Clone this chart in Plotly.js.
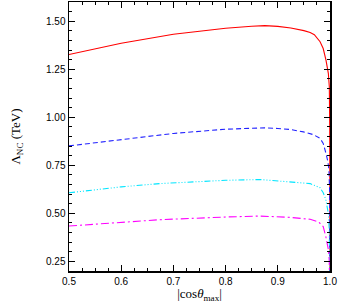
<!DOCTYPE html>
<html>
<head>
<meta charset="utf-8">
<script src="https://cdn.plot.ly/plotly-3.0.1.min.js"></script>
<style>html,body{margin:0;padding:0;background:#fff;}#chart{width:338px;height:305px;}</style>
</head>
<body>
<div id="chart"></div>
<script>
// |cos theta_max| values
const xRed = [0.5, 0.6, 0.7, 0.8, 0.85, 0.875, 0.9, 0.925, 0.95, 0.962, 0.97, 0.981, 0.987, 0.9923, 0.9968, 0.9987, 0.9995, 1.0];
const lamRed = [1.327, 1.385, 1.432, 1.463, 1.474, 1.477, 1.473, 1.465, 1.451, 1.441, 1.43, 1.393, 1.358, 1.298, 1.229, 1.159, 0.95, 0.0];

const xBlue = [0.5, 0.6, 0.7, 0.8, 0.85, 0.875, 0.9, 0.925, 0.949, 0.968, 0.981, 0.987, 0.9923, 0.996, 0.998, 0.9995, 1.0];
const lamBlue = [0.851, 0.885, 0.916, 0.938, 0.944, 0.945, 0.942, 0.936, 0.924, 0.91, 0.89, 0.864, 0.812, 0.769, 0.726, 0.6, 0.0];

const xCyan = [0.5, 0.6, 0.674, 0.8, 0.866, 0.923, 0.962, 0.981, 0.987, 0.992, 0.9968, 0.9985, 1.0];
const lamCyan = [0.607, 0.638, 0.655, 0.672, 0.676, 0.665, 0.655, 0.633, 0.607, 0.572, 0.5, 0.42, 0.0];

const xMag = [0.5, 0.6, 0.674, 0.8, 0.866, 0.923, 0.962, 0.978, 0.987, 0.992, 0.997, 0.9985, 1.0];
const lamMag = [0.434, 0.453, 0.467, 0.481, 0.486, 0.479, 0.469, 0.456, 0.431, 0.379, 0.31, 0.26, 0.0];

const xTicks = [0.5, 0.6, 0.7, 0.8, 0.9, 1.0];
const yTicks = [0.25, 0.5, 0.75, 1.0, 1.25, 1.5];

const traces = [
  {x: xRed, y: lamRed, mode: 'lines', line: {color: '#ff0000', width: 1.1}},
  {x: xBlue, y: lamBlue, mode: 'lines', line: {color: '#2222ff', width: 1.1, dash: '5px,3px'}},
  {x: xCyan, y: lamCyan, mode: 'lines', line: {color: '#00e5ff', width: 1.1, dash: '6px,2px,1px,2px,1px,2px,1px,2px'}},
  {x: xMag, y: lamMag, mode: 'lines', line: {color: '#ff00ff', width: 1.1, dash: '8px,3px,2px,3px'}}
];

const tickFont = {family: 'Liberation Sans, Arial, sans-serif', size: 10, color: '#000'};
const titleFont = {family: 'Liberation Serif, Times New Roman, serif', size: 13, color: '#000'};

const layout = {
  width: 338, height: 305,
  margin: {l: 69, r: 8, t: 2, b: 34},
  paper_bgcolor: '#fff', plot_bgcolor: '#fff',
  showlegend: false,
  xaxis: {
    range: [0.5, 1.0], tickvals: xTicks, ticktext: xTicks.map(v => v.toFixed(1)),
    ticks: 'inside', ticklen: 6, tickwidth: 1, tickcolor: '#000',
    minor: {dtick: 0.025, tick0: 0.5, ticks: 'inside', ticklen: 3, tickwidth: 1, tickcolor: '#000', showgrid: false},
    showline: true, linecolor: '#000', linewidth: 1.5, mirror: 'allticks',
    showgrid: false, zeroline: false, tickfont: tickFont,
    title: {text: '|cos<i>θ</i><sub>max</sub>|', font: titleFont, standoff: 3}
  },
  yaxis: {
    range: [0.2, 1.6], tickvals: yTicks, ticktext: yTicks.map(v => v.toFixed(2)),
    ticks: 'inside', ticklen: 6, tickwidth: 1, tickcolor: '#000',
    minor: {dtick: 0.05, tick0: 0.2, ticks: 'inside', ticklen: 3, tickwidth: 1, tickcolor: '#000', showgrid: false},
    showline: true, linecolor: '#000', linewidth: 1.5, mirror: 'allticks',
    showgrid: false, zeroline: false, tickfont: tickFont,
    title: {text: 'Λ<sub>NC</sub> (TeV)', font: titleFont, standoff: 22}
  }
};

Plotly.newPlot('chart', traces, layout, {staticPlot: true, displayModeBar: false});
</script>
</body>
</html>
